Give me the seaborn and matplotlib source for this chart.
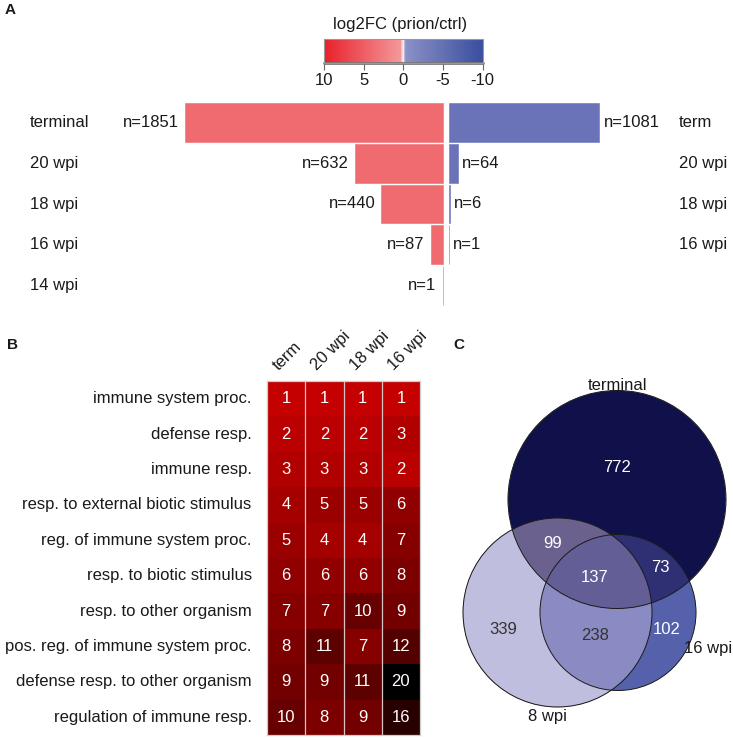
import numpy as np
import pandas as pd
import seaborn as sns
import matplotlib
matplotlib.use("Agg")
import matplotlib.pyplot as plt
import matplotlib.transforms as mtransforms
from matplotlib.colors import LinearSegmentedColormap, Normalize, to_rgba
from matplotlib.cm import ScalarMappable
from matplotlib.patches import Circle

# ---- data ----
# panel A: number of up (red) / down (blue) regulated genes per time point
stages = ["terminal", "20 wpi", "18 wpi", "16 wpi", "14 wpi"]
stages_right = ["term", "20 wpi", "18 wpi", "16 wpi", ""]
n_up = [1851, 632, 440, 87, 1]
n_down = [1081, 64, 6, 1, 0]
cbar_ticks = [10, 5, 0, -5, -10]

# panel B: GO term ranks
go_terms = ["immune system proc.", "defense resp.", "immune resp.",
            "resp. to external biotic stimulus", "reg. of immune system proc.",
            "resp. to biotic stimulus", "resp. to other organism",
            "pos. reg. of immune system proc.", "defense resp. to other organism",
            "regulation of immune resp."]
go_cols = ["term", "20 wpi", "18 wpi", "16 wpi"]
rank_term = [1, 2, 3, 4, 5, 6, 7, 8, 9, 10]
rank_20 = [1, 2, 3, 5, 4, 6, 7, 11, 9, 8]
rank_18 = [1, 2, 3, 5, 4, 6, 10, 7, 11, 9]
rank_16 = [1, 3, 2, 6, 7, 8, 9, 12, 20, 16]

# panel C: venn counts
venn_sets = ["terminal", "8 wpi", "16 wpi"]
venn_regions = ["T", "T&8", "T&8&16", "T&16", "8", "8&16", "16"]
venn_counts = [772, 99, 137, 73, 339, 238, 102]

# ---- style ----
sns.set_theme(style="white")
plt.rcParams["font.family"] = ["Liberation Sans", "DejaVu Sans"]
W, H = 733, 740
FS = 12
TXT = "#1a1a1a"

fig = plt.figure(figsize=(W / 100, H / 100), dpi=100)


def fx(px):
    return px / W


def fy(py):
    return 1 - py / H


# ---- panel A: bars ----
s = 0.1394  # px per gene
mid = 445.75
gap = 3.05 / s
ax_a = fig.add_axes([0, fy(305.5), 1, (305.5 - 102.5) / H])
ypos = np.arange(len(stages))
red, blue = "#EF6B70", "#6A72B8"
ax_a.barh(ypos, [-n for n in n_up], left=-gap, height=0.955, color=red,
          edgecolor=red, lw=0.4)
ax_a.barh(ypos, n_down, left=gap, height=0.955, color=blue,
          edgecolor=[blue if n else "none" for n in n_down], lw=0.4)
ax_a.set_xlim(-mid / s, (W - mid) / s)
ax_a.set_ylim(len(stages) - 0.5, -0.5)
ax_a.axis("off")
blend = mtransforms.blended_transform_factory(ax_a.transAxes, ax_a.transData)
for i, (st, sr, nu, nd) in enumerate(zip(stages, stages_right, n_up, n_down)):
    ax_a.text(fx(30), i, st, transform=blend, ha="left", va="center", fontsize=FS, color=TXT)
    if sr:
        ax_a.text(fx(679), i, sr, transform=blend, ha="left", va="center", fontsize=FS, color=TXT)
    ax_a.annotate(f"n={nu}", (-gap - nu, i), xytext=(-6, 0), textcoords="offset pixels",
                  ha="right", va="center", fontsize=FS, color=TXT)
    if nd > 0:
        ax_a.annotate(f"n={nd}", (gap + nd, i), xytext=(4, 0), textcoords="offset pixels",
                      ha="left", va="center", fontsize=FS, color=TXT)

# colorbar
cmap_fc = LinearSegmentedColormap.from_list(
    "fc", [(0.0, "#3A4F9F"), (0.485, "#8B90C6"), (0.5, "#FFFFFF"),
           (0.515, "#F4989B"), (1.0, "#E8202A")])
cax = fig.add_axes([fx(324), fy(63), (482.5 - 324) / W, 24 / H])
sm = ScalarMappable(norm=Normalize(-10, 10), cmap=cmap_fc)
cb = fig.colorbar(sm, cax=cax, orientation="horizontal", ticks=cbar_ticks)
cax.invert_xaxis()
cb.outline.set_edgecolor("#999999")
cb.outline.set_linewidth(0.8)
cax.plot([0, 1], [0, 0], transform=cax.transAxes, color="#777777", lw=2, clip_on=False)
cax.tick_params(axis="x", length=5, width=0.8, color="#666666", pad=2, labelsize=FS,
                labelcolor=TXT, bottom=True)
cax.set_xticklabels([str(t) for t in cbar_ticks])
fig.text(fx(400), fy(24), "log2FC (prion/ctrl)", ha="center", va="center", fontsize=FS, color=TXT)

# ---- panel B: heatmap ----
df = pd.DataFrame({"term": rank_term, "20 wpi": rank_20, "18 wpi": rank_18,
                   "16 wpi": rank_16}, index=go_terms)[go_cols]
cmap_rank = LinearSegmentedColormap.from_list("rank", ["#C40000", "#000000"])
ax_b = fig.add_axes([fx(267), fy(735), (420 - 267) / W, (735 - 381) / H])
sns.heatmap(df, ax=ax_b, cmap=cmap_rank, vmin=1, vmax=20, annot=True, fmt="d",
            cbar=False, annot_kws={"color": "white", "fontsize": FS})
for x in range(1, len(go_cols)):
    ax_b.axvline(x, color="#d8c4c4", lw=0.9)
for sp in ax_b.spines.values():
    sp.set_visible(True)
    sp.set_color("#cccccc")
    sp.set_linewidth(0.9)
ax_b.xaxis.tick_top()
ax_b.tick_params(length=0)
ax_b.tick_params(axis="y", pad=11)
ax_b.tick_params(axis="x", pad=6)
ax_b.set_yticklabels(go_terms, rotation=0, fontsize=FS, color=TXT)
ax_b.set_xticklabels(go_cols, rotation=45, ha="left", va="bottom",
                     rotation_mode="anchor", fontsize=FS, color=TXT)
shift = mtransforms.ScaledTranslation(-5 / 100, 0, fig.dpi_scale_trans)
for lab in ax_b.get_xticklabels():
    lab.set_transform(lab.get_transform() + shift)
ax_b.set_xlabel("")
ax_b.set_ylabel("")

# ---- panel C: venn ----
ax_c = fig.add_axes([fx(440), 0, (W - 440) / W, (H - 370) / H])
ax_c.set_xlim(440, W)
ax_c.set_ylim(H, 370)
ax_c.axis("off")
circles = {"terminal": ((617, 499.5), 109), "8 wpi": ((557.5, 612.5), 94.5),
           "16 wpi": ((618, 612.5), 78)}
xs = np.linspace(440, W, 1172)
ys = np.linspace(370, H, 1480)
X, Y = np.meshgrid(xs, ys)
code = np.zeros(X.shape, dtype=int)
for bit, name in zip([1, 2, 4], venn_sets):
    (cx, cy), r = circles[name]
    code += bit * ((X - cx) ** 2 + (Y - cy) ** 2 <= r ** 2)
region_colors = {1: "#11104A", 2: "#C1BFDF", 4: "#5561AA", 3: "#6B628F",
                 5: "#2F3073", 6: "#8B8BC4", 7: "#635E95"}
rgba = np.zeros(X.shape + (4,))
for k, c in region_colors.items():
    rgba[code == k] = to_rgba(c)
ax_c.imshow(rgba, extent=(440, W, H, 370), origin="upper", aspect="auto",
            interpolation="antialiased")
for name in venn_sets:
    (cx, cy), r = circles[name]
    ax_c.add_patch(Circle((cx, cy), r, fill=False, ec="#1a1a1a", lw=0.7))

region_pos = {"T": (617, 467), "T&8": (553, 543), "T&8&16": (595, 578),
              "T&16": (660, 567), "8": (503, 630), "8&16": (595, 635),
              "16": (667, 630)}
dark_text = {"8", "8&16"}
for reg, cnt in zip(venn_regions, venn_counts):
    ax_c.text(*region_pos[reg], str(cnt), ha="center", va="center", fontsize=FS,
              color="#333333" if reg in dark_text else "white")
ax_c.text(617, 385, "terminal", ha="center", va="center", fontsize=FS, color=TXT)
ax_c.text(684, 648, "16 wpi", ha="left", va="center", fontsize=FS, color=TXT)
ax_c.text(547, 716, "8 wpi", ha="center", va="center", fontsize=FS, color=TXT)

# panel letters
for letter, (px, py) in zip("ABC", [(5, 10), (7, 345), (453, 345)]):
    fig.text(fx(px), fy(py), letter, ha="left", va="center", fontsize=11,
             fontweight="bold", color=TXT)

fig.savefig("out.png", dpi=100)
